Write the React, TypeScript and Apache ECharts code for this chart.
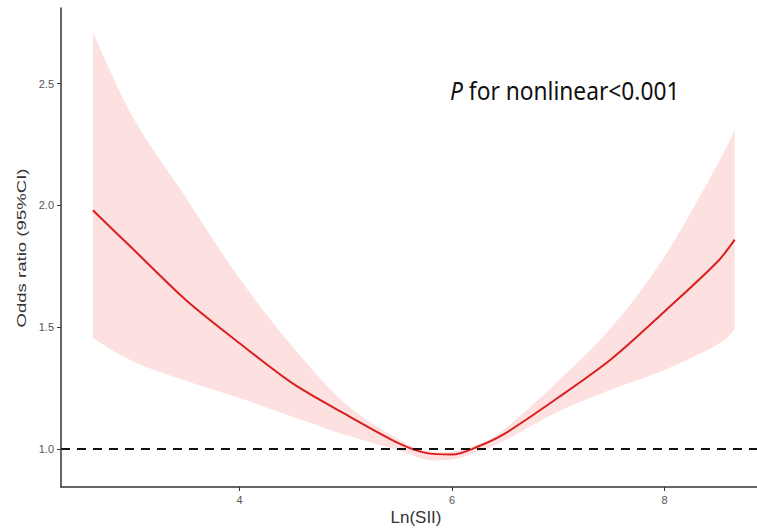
import React, { useEffect, useRef } from "react";
import * as echarts from "echarts";

const xs = [2.62, 3.0, 3.5, 4.0, 4.5, 5.0, 5.5, 5.75, 6.0, 6.25, 6.5, 7.0, 7.5, 8.0, 8.5, 8.66];
const orMid = [1.98, 1.82, 1.61, 1.435, 1.27, 1.143, 1.024, 0.985, 0.978, 1.012, 1.065, 1.212, 1.37, 1.565, 1.77, 1.86];
const ciUpper = [2.71, 2.36, 2.03, 1.7, 1.42, 1.185, 1.04, 0.995, 0.99, 1.02, 1.085, 1.28, 1.5, 1.79, 2.17, 2.31];
const ciLower = [1.455, 1.36, 1.28, 1.21, 1.133, 1.058, 0.995, 0.958, 0.958, 0.99, 1.037, 1.155, 1.245, 1.325, 1.43, 1.49];
const xTicks = [4, 6, 8];
const yTicks = [1.0, 1.5, 2.0, 2.5];
const refValue = 1;

function smoothSegs(pts: number[][]): string {
  let d = "";
  const n = pts.length;
  for (let i = 0; i < n - 1; i++) {
    const p0 = pts[Math.max(0, i - 1)];
    const p1 = pts[i];
    const p2 = pts[i + 1];
    const p3 = pts[Math.min(n - 1, i + 2)];
    const c1x = p1[0] + (p2[0] - p0[0]) / 6;
    const c1y = p1[1] + (p2[1] - p0[1]) / 6;
    const c2x = p2[0] - (p3[0] - p1[0]) / 6;
    const c2y = p2[1] - (p3[1] - p1[1]) / 6;
    d += ` C ${c1x} ${c1y} ${c2x} ${c2y} ${p2[0]} ${p2[1]}`;
  }
  return d;
}

export default function App() {
  const ref = useRef<HTMLDivElement>(null);
  useEffect(() => {
    if (!ref.current) return;
    const chart = echarts.init(ref.current, null, { renderer: "svg" });
    const axisLabelStyle = { color: "#555", fontSize: 11, fontFamily: "Liberation Sans, Arial, sans-serif" };
    chart.setOption({
      animation: false,
      grid: { left: 61, right: 0, top: 8, bottom: 43 },
      xAxis: {
        type: "value",
        min: 2.32,
        max: 8.87,
        z: 10,
        splitLine: { show: false },
        axisLine: { show: true, lineStyle: { color: "#333", width: 1.5 } },
        axisTick: { show: true, length: 4, customValues: xTicks, lineStyle: { color: "#333" } },
        axisLabel: { ...axisLabelStyle, margin: 7, customValues: xTicks, formatter: (v: number) => String(v) },
      },
      yAxis: {
        type: "value",
        min: 0.845,
        max: 2.81,
        z: 10,
        splitLine: { show: false },
        axisLine: { show: true, lineStyle: { color: "#333", width: 1.5 } },
        axisTick: { show: true, length: 4, customValues: yTicks, lineStyle: { color: "#333" } },
        axisLabel: { ...axisLabelStyle, margin: 7, customValues: yTicks, formatter: (v: number) => v.toFixed(1) },
      },
      series: [
        {
          type: "custom",
          name: "95% CI",
          silent: true,
          z: 1,
          data: [0],
          renderItem: (_params: any, api: any) => {
            const up = xs.map((x, i) => api.coord([x, ciUpper[i]]));
            const lo = xs.map((x, i) => api.coord([x, ciLower[i]])).reverse();
            const d =
              `M ${up[0][0]} ${up[0][1]}` +
              smoothSegs(up) +
              ` L ${lo[0][0]} ${lo[0][1]}` +
              smoothSegs(lo) +
              " Z";
            return { type: "path", shape: { pathData: d }, style: { fill: "#fde1e1", stroke: "none" } };
          },
        },
        {
          type: "line",
          name: "OR",
          data: xs.map((x, i) => [x, orMid[i]]),
          symbol: "none",
          smooth: 0.3,
          lineStyle: { color: "#db1f1f", width: 2 },
          z: 3,
          markLine: {
            silent: true,
            symbol: "none",
            label: { show: false },
            lineStyle: { color: "#111", type: [9, 7], width: 2 },
            data: [{ yAxis: refValue }],
          },
        },
      ],
      graphic: [
        {
          type: "text",
          x: 450,
          y: 90,
          scaleX: 0.91,
          z: 20,
          style: {
            text: "{p|P} for nonlinear<0.001",
            fill: "#111",
            fontSize: 25,
            fontFamily: "Noto Sans",
            verticalAlign: "middle",
            rich: {
              p: { fontStyle: "italic", fontSize: 25, fontFamily: "Noto Sans" },
            },
          },
        },
        {
          type: "text",
          x: 416,
          y: 517,
          z: 20,
          style: {
            text: "Ln(SII)",
            fill: "#333",
            fontSize: 17,
            fontFamily: "Liberation Sans",
            align: "center",
            verticalAlign: "middle",
          },
        },
        {
          type: "text",
          x: 22,
          y: 248,
          rotation: Math.PI / 2,
          scaleX: 1.55,
          z: 20,
          style: {
            text: "Odds ratio (95%CI)",
            fill: "#333",
            fontSize: 12,
            fontFamily: "Liberation Sans",
            align: "center",
            verticalAlign: "middle",
          },
        },
      ],
    });
    return () => chart.dispose();
  }, []);
  return <div ref={ref} style={{ width: 757, height: 530, position: "absolute", left: 0, top: 0 }} />;
}
